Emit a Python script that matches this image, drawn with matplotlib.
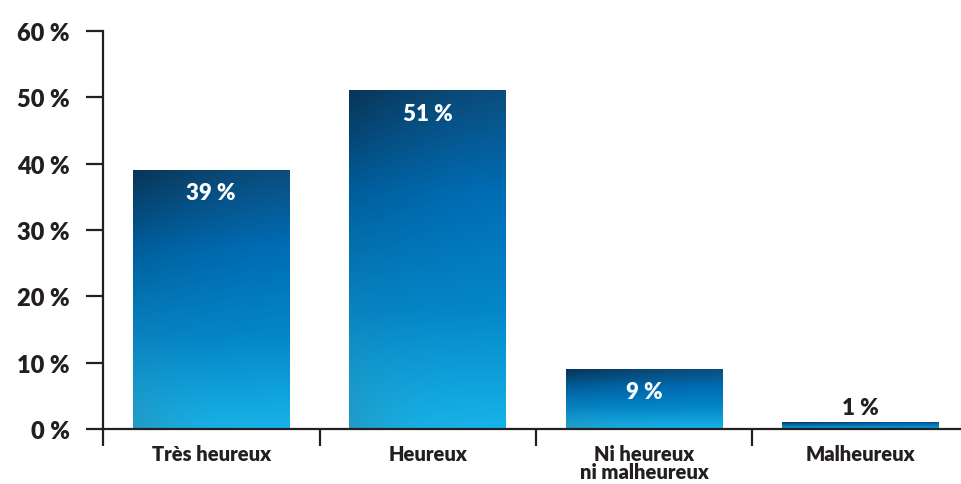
import numpy as np
import matplotlib.pyplot as plt
from matplotlib.colors import to_rgb

categories = ['Très heureux', 'Heureux', 'Ni heureux\nni malheureux', 'Malheureux']
values = [39, 51, 9, 1]
yticks = [0, 10, 20, 30, 40, 50, 60]

plt.rcParams['font.family'] = ['Lato', 'DejaVu Sans']
ink = '#231f20'


def bar_gradient(n=120, m=60):
    # vertical stops: dark navy top -> blue -> light cyan bottom
    stops = [(0.0, '#0b4d7e'), (0.3, '#006db5'), (0.65, '#0487c9'), (1.0, '#17b3e8')]
    t = np.linspace(0, 1, n)
    cols = np.zeros((n, 3))
    for k in range(3):
        cols[:, k] = np.interp(t, [s[0] for s in stops], [to_rgb(s[1])[k] for s in stops])
    img = np.repeat(cols[:, None, :], m, axis=1)
    x = np.linspace(0, 1, m)
    # darker left side near the top, greyish teal at bottom-left
    shade = 1 - 0.3 * np.outer((1 - t) ** 2, (1 - x) ** 1.5)
    img = img * shade[:, :, None]
    teal = np.array(to_rgb('#2a86a8'))
    w = np.outer(t ** 3, (1 - x) ** 3) * 0.55
    img = img * (1 - w[:, :, None]) + teal * w[:, :, None]
    return np.clip(img, 0, 1)


fig = plt.figure(figsize=(9.62, 4.85), dpi=100)
ax = fig.add_axes([103 / 962, 55 / 485, 859 / 962, 398 / 485])

x = np.arange(len(categories))
bars = ax.bar(x, values, width=0.725, color='none', edgecolor='none')
grad = bar_gradient()
for b in bars:
    x0, w, h = b.get_x(), b.get_width(), b.get_height()
    ax.imshow(grad, extent=[x0, x0 + w, 0, h], aspect='auto', zorder=2, interpolation='bilinear')

for xi, v in zip(x, values):
    if v > 5:
        ax.text(xi, v - 3.4, f'{v} %', ha='center', va='center', color='white',
                fontsize=16, fontweight='heavy', zorder=3)
    else:
        ax.text(xi, v + 2.2, f'{v} %', ha='center', va='center', color=ink,
                fontsize=16, fontweight='heavy', zorder=3)

ax.set_xlim(-0.5, -0.5 + 859 / 216.5)
ax.set_ylim(0, 60)

for s in ['top', 'right']:
    ax.spines[s].set_visible(False)
for s in ['left', 'bottom']:
    ax.spines[s].set_color(ink)
    ax.spines[s].set_linewidth(1.6)
    ax.spines[s].set_zorder(4)

ax.set_yticks(yticks)
ax.set_yticklabels([f'{v} %' for v in yticks], fontsize=17, fontweight='heavy', color=ink)
ax.tick_params(axis='y', length=12, width=1.6, color=ink, pad=12)

ax.set_xticks(x)
ax.set_xticklabels(categories, fontsize=14.5, fontweight='heavy', color=ink, linespacing=0.95)
ax.set_xticks(np.arange(-0.5, len(categories) - 0.5, 1.0), minor=True)
ax.tick_params(axis='x', which='major', length=0, pad=11)
ax.tick_params(axis='x', which='minor', length=12, width=1.6, color=ink)

fig.savefig('out.png', dpi=100)
